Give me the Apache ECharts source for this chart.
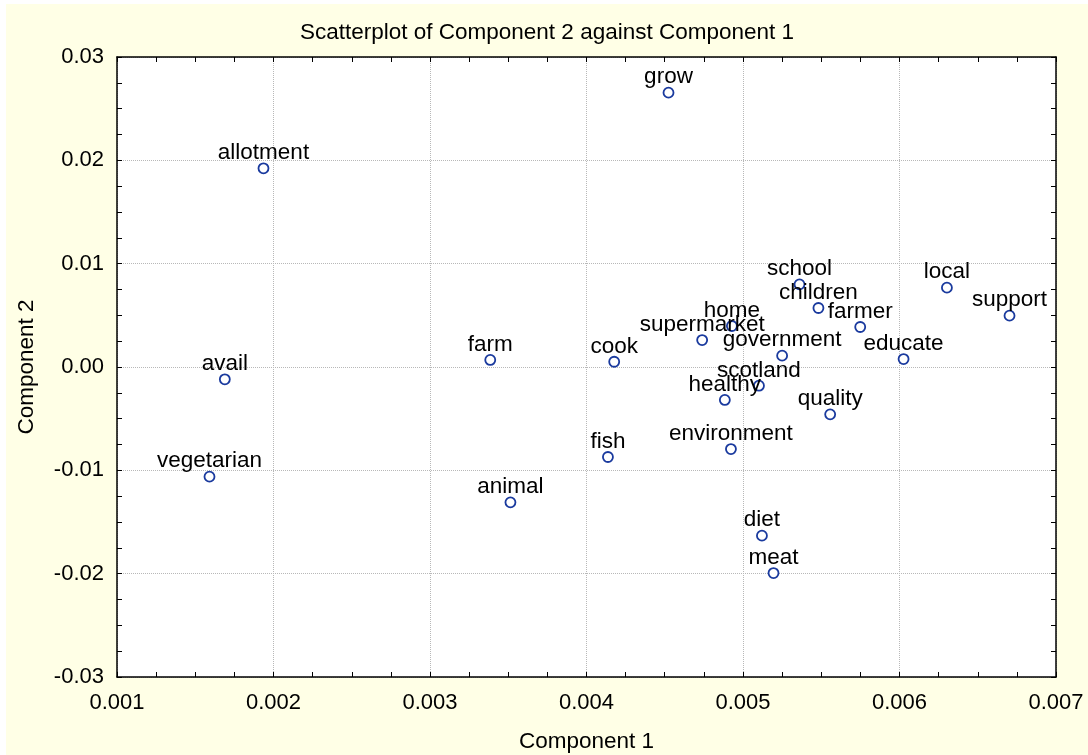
<!DOCTYPE html>
<html>
<head>
<meta charset="utf-8">
<script src="https://cdn.jsdelivr.net/npm/echarts@6/dist/echarts.min.js"></script>
<style>
  html, body { margin: 0; padding: 0; background: #ffffff; width: 1088px; height: 755px; overflow: hidden; }
  #chart { position: absolute; left: 6px; top: 4px; width: 1082px; height: 751px; }
</style>
</head>
<body>
<div id="chart"></div>
<script>
const words = ['grow','allotment','school','local','children','support','farmer','home','supermarket','government','educate','farm','cook','avail','scotland','healthy','quality','environment','fish','vegetarian','animal','diet','meat'];
const comp1 = [0.004524,0.001936,0.005361,0.006303,0.005482,0.006703,0.005749,0.004929,0.004739,0.005250,0.006026,0.003385,0.004177,0.001689,0.005102,0.004884,0.005557,0.004923,0.004137,0.001591,0.003514,0.005121,0.005195];
const comp2 = [0.02655,0.01923,0.00800,0.00768,0.00571,0.00497,0.00387,0.00397,0.00261,0.00110,0.00077,0.00068,0.00051,-0.00119,-0.00181,-0.00319,-0.00458,-0.00794,-0.00871,-0.01061,-0.01310,-0.01632,-0.01994];
const xTicks = ['0.001','0.002','0.003','0.004','0.005','0.006','0.007'];
const yTicks = ['-0.03','-0.02','-0.01','0.00','0.01','0.02','0.03'];

const FONT = "'Liberation Sans', Arial, Helvetica, sans-serif";
const FS = 22.5;
const points = words.map((w, i) => ({ name: w, value: [comp1[i], comp2[i]] }));

const chart = echarts.init(document.getElementById('chart'), null, { renderer: 'canvas' });
const axisCommon = {
  axisLine: { show: true, onZero: false, lineStyle: { color: '#000', width: 1.5 } },
  axisTick: { show: true, inside: true, length: 5, lineStyle: { color: '#000', width: 1 } },
  minorTick: { show: true, splitNumber: 4, length: 5, lineStyle: { color: '#000', width: 1 } },
};
chart.setOption({
  backgroundColor: '#FFFFE6',
  animation: false,
  title: {
    text: 'Scatterplot of Component 2 against Component 1',
    left: 'center', top: 12,
    textStyle: { fontFamily: FONT, fontSize: FS, fontWeight: 'normal', color: '#000' }
  },
  grid: { left: 111, top: 53, width: 939, height: 620, outerBoundsMode: 'none', containLabel: false,
          backgroundColor: '#fff', show: true, borderWidth: 0 },
  xAxis: [
    Object.assign({}, axisCommon, {
      type: 'value', min: 0.001, max: 0.007, interval: 0.001, position: 'bottom',
      name: 'Component 1', nameLocation: 'middle', nameGap: 53,
      nameTextStyle: { fontFamily: FONT, fontSize: FS, color: '#000' },
      axisLabel: { margin: 15, fontFamily: FONT, fontSize: 22, color: '#000',
        formatter: v => xTicks[Math.round((v - 0.001) / 0.001)] },
      splitLine: { show: true, lineStyle: { color: '#b8b8b8', type: 'dotted', width: 1 } }
    }),
    Object.assign({}, axisCommon, {
      type: 'value', min: 0.001, max: 0.007, interval: 0.001, position: 'top',
      axisLabel: { show: false }, splitLine: { show: false }
    })
  ],
  yAxis: [
    Object.assign({}, axisCommon, {
      type: 'value', min: -0.03, max: 0.03, interval: 0.01, position: 'left',
      name: 'Component 2', nameLocation: 'middle', nameGap: 79,
      nameTextStyle: { fontFamily: FONT, fontSize: FS, color: '#000' },
      axisLabel: { margin: 13, fontFamily: FONT, fontSize: 22, color: '#000',
        formatter: v => yTicks[Math.round((v + 0.03) / 0.01)] },
      splitLine: { show: true, lineStyle: { color: '#b8b8b8', type: 'dotted', width: 1 } }
    }),
    Object.assign({}, axisCommon, {
      type: 'value', min: -0.03, max: 0.03, interval: 0.01, position: 'right',
      axisLabel: { show: false }, splitLine: { show: false }
    })
  ],
  series: [{
    type: 'scatter',
    data: points,
    symbol: 'circle',
    symbolSize: 10,
    itemStyle: { color: '#ffffff', borderColor: '#1a3a9e', borderWidth: 1.8, opacity: 1 },
    label: {
      show: true, position: 'top', distance: 1, offset: [0, 3],
      formatter: p => p.name,
      fontFamily: FONT, fontSize: FS, color: '#000'
    },
    emphasis: { disabled: true }
  }]
});
</script>
</body>
</html>
